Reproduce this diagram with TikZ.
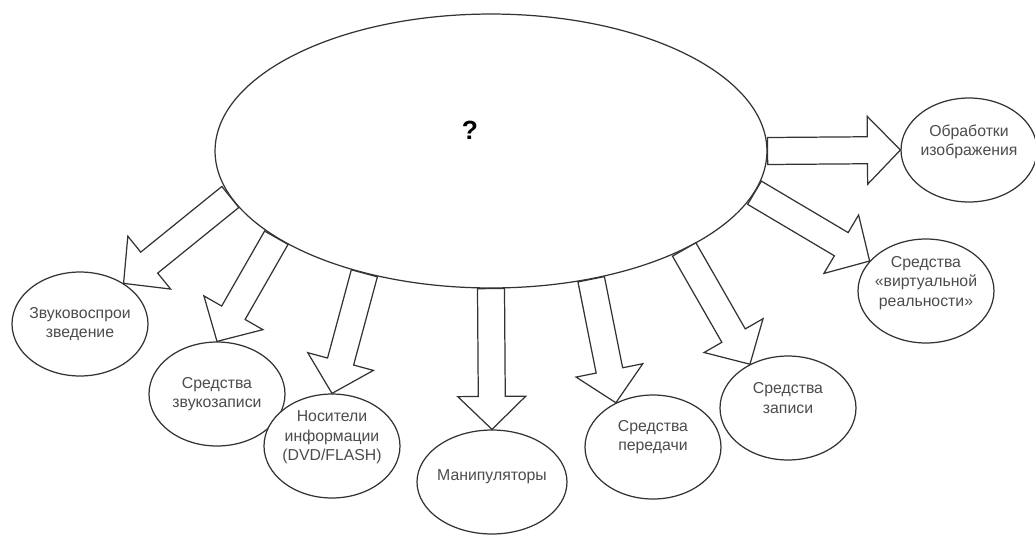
\documentclass[tikz,border=0pt]{standalone}
\usepackage{fontspec}
\setmainfont{Liberation Sans}
\usetikzlibrary{shapes.geometric,calc}

\tikzset{
  line/.style={draw=black!80, line width=0.7pt},
  bigoval/.style={ellipse, line, minimum width=11.04cm, minimum height=5.48cm, inner sep=0pt},
  oval/.style={ellipse, line, fill=white, minimum width=2.72cm, minimum height=2.08cm, inner sep=0pt},
  txt/.style={align=center, text=black!70, font=\fontsize{9}{11}\selectfont},
  fat/.style={line, fill=white, line join=miter}
}

% block arrow from #1 (tail) to #2 (tip)
\newcommand{\fatarrow}[2]{%
  \coordinate (hb) at ($(#2)!0.66cm!(#1)$);
  \draw[fat] ($(#1)!0.27cm!90:(#2)$) -- ($(hb)!0.27cm!90:(#2)$)
    -- ($(hb)!0.68cm!90:(#2)$) -- (#2) -- ($(hb)!0.68cm!-90:(#2)$)
    -- ($(hb)!0.27cm!-90:(#2)$) -- ($(#1)!0.27cm!-90:(#2)$) -- cycle;
}

\begin{document}
\begin{tikzpicture}[x=0.02cm, y=-0.02cm]
  \useasboundingbox (0,0) rectangle (1035,535);

  \node[bigoval] (main) at (491,151) {};
  \node[font=\fontsize{15}{15}\selectfont\bfseries] (q) at (470,130) {?};

  \node[oval, label={[txt]center:Звуковоспрои\\зведение}] (play) at (80,324) {};
  \node[oval, label={[txt]center:Средства\\звукозаписи}] (srec) at (217,394) {};
  \node[oval, label={[txt,yshift=0.17cm]center:Носители\\информации\\(DVD/FLASH)}] (media) at (332,446) {};
  \node[oval, minimum width=3cm, label={[txt,yshift=0.1cm]center:Манипуляторы}] (manip) at (492,482) {};
  \node[oval, label={[txt,yshift=0.2cm]center:Средства\\передачи}] (trans) at (653,447) {};
  \node[oval, label={[txt,yshift=0.2cm]center:Средства\\записи}] (rec) at (788,408) {};
  \node[oval, label={[txt,yshift=0.16cm]center:Средства\\«виртуальной\\реальности»}] (vr) at (926,291) {};
  \node[oval, label={[txt,yshift=0.16cm]center:Обработки\\изображения}] (img) at (969,150) {};

  \fatarrow{main.190}{play.43}
  \fatarrow{main.202}{srec.90}
  \fatarrow{main.224}{media.90}
  \fatarrow{main.270}{manip.90}
  \fatarrow{main.308}{trans.130}
  \fatarrow{main.333}{rec.131}
  \fatarrow{main.351}{vr.152}
  \fatarrow{main.0}{img.180}
\end{tikzpicture}
\end{document}
